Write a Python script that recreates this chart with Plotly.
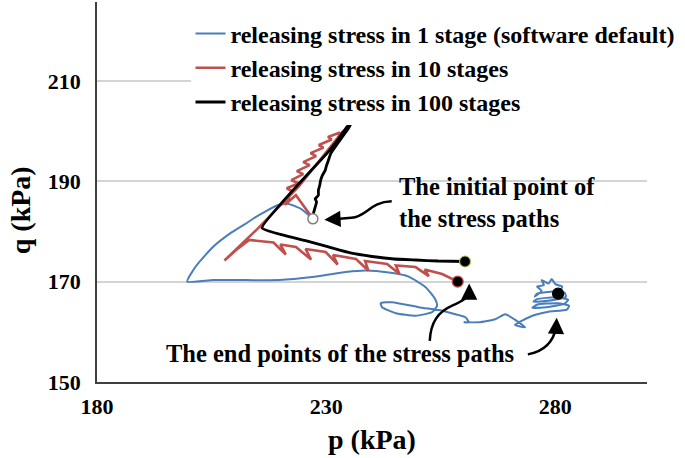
import plotly.graph_objects as go

# ---------------- data (p, q in kPa) ----------------
series_names = ["releasing stress in 1 stage (software default)",
                "releasing stress in 10 stages",
                "releasing stress in 100 stages"]
series_colors = ["#4a7ebb", "#c0504d", "#000000"]

blue_p = [227.1, 224.5, 221.6, 219.4, 216.8, 214.7, 212.2, 208.9, 205.3, 201.7, 199.7,
          205.3, 212.5, 219.8, 227.0, 234.3, 238.6, 243.7, 248.0, 251.7, 253.8, 254.2,
          253.1, 249.5, 245.2, 242.2, 241.9, 244.4, 250.2, 255.3, 258.2, 260.4, 261.1,
          260.0, 263.3, 266.9, 269.1, 273.4, 271.2, 275.0, 278.5, 282.5, 283.0, 280.5,
          276.0, 275.0, 278.0, 282.0, 282.8, 280.0, 276.0, 275.2, 278.5, 282.3, 282.0,
          279.0, 276.0, 275.5, 277.0, 276.0, 277.5, 277.0, 278.5, 279.2, 280.0, 281.5,
          280.6]
blue_q = [182.5, 184.5, 185.5, 185.2, 184.0, 182.9, 181.4, 179.5, 176.9, 173.2, 170.0,
          170.3, 170.3, 170.3, 170.9, 171.9, 172.2, 171.8, 171.0, 168.9, 166.5, 165.2,
          163.9, 163.2, 163.7, 164.9, 165.7, 165.9, 164.9, 164.2, 163.5, 162.9, 161.9,
          161.9, 161.9, 162.5, 163.5, 160.9, 161.4, 163.2, 164.0, 164.4, 165.2, 165.7,
          165.4, 164.8, 164.9, 165.6, 166.4, 166.9, 166.5, 166.0, 166.2, 167.0, 167.8,
          168.0, 167.6, 167.0, 168.2, 169.0, 169.3, 170.3, 169.6, 170.5, 169.5, 169.0,
          167.6]

red_p = [227.1, 223.4, 221.0, 222.6, 221.4, 224.0, 222.4, 225.0, 223.6, 226.4, 225.0,
         227.8, 226.6, 229.4, 228.4, 231.2, 230.4, 233.0, 232.6, 235.0, 233.5, 224.0,
         215.0, 207.8, 210.5, 213.2, 216.2, 218.5, 221.2, 220.0, 223.4, 226.7, 225.5,
         229.9, 232.5, 231.5, 236.5, 239.2, 238.5, 243.3, 246.0, 245.2, 249.5, 252.4,
         251.5, 255.3, 258.7]
red_q = [182.5, 187.2, 185.3, 188.0, 188.6, 189.6, 190.2, 191.4, 192.0, 193.2, 193.8,
         195.0, 195.6, 196.7, 197.2, 198.3, 198.8, 199.7, 199.2, 200.6, 199.8, 188.9,
         180.5, 174.2, 176.4, 178.3, 178.1, 177.8, 175.4, 177.4, 176.9, 174.4, 176.5,
         175.9, 173.4, 175.3, 174.5, 172.2, 174.1, 173.5, 171.5, 173.2, 172.9, 171.1,
         172.4, 171.5, 170.0]

black_p = [227.1, 227.2, 227.4, 227.9, 227.6, 228.3, 228.3, 228.6, 228.8, 229.2, 229.8,
           230.1, 230.5, 231.0, 232.5, 234.3, 235.4, 234.6, 232.8, 230.6, 216.0, 220.9,
           225.7, 230.5, 235.3, 240.0, 244.8, 249.6, 254.4, 260.3]
black_q = [182.5, 183.5, 184.2, 185.9, 186.5, 187.2, 188.2, 189.2, 190.2, 191.2, 192.2,
           193.2, 194.2, 195.5, 197.5, 199.8, 201.3, 200.9, 198.6, 196.0, 180.7, 179.2,
           178.1, 176.9, 175.7, 175.0, 174.5, 174.3, 174.1, 174.0]

initial_p = [227.1]
initial_q = [182.5]
end_p = [260.3, 258.7, 280.6]
end_q = [174.0, 170.0, 167.6]
end_outline = ["#b8b860", "#c0504d", "#000000"]

x_ticks = [180, 230, 280]
y_ticks = [150, 170, 190, 210]

FONT = "Times New Roman, Liberation Serif, serif"

fig = go.Figure()
styles = [dict(width=2.0, shape="spline", smoothing=0.5),
          dict(width=2.6, shape="linear"),
          dict(width=2.8, shape="spline", smoothing=0.4)]
for name, color, px_, qy, st in zip(series_names, series_colors,
                                    [blue_p, red_p, black_p], [blue_q, red_q, black_q],
                                    styles):
    fig.add_trace(go.Scatter(x=px_, y=qy, mode="lines", name=name,
                             line=dict(color=color, **st)))

fig.add_trace(go.Scatter(x=end_p, y=end_q, mode="markers", showlegend=False,
                         marker=dict(color="#000000", size=11,
                                     line=dict(color=end_outline, width=1.2))))
fig.add_trace(go.Scatter(x=initial_p, y=initial_q, mode="markers", showlegend=False,
                         marker=dict(color="#ffffff", size=10,
                                     line=dict(color="#808080", width=1.5))))

# curved arrows (annotation graphics)
arrow_paths = [
    "M244.3,186.0 C239.5,185.9 239.0,183.0 235.5,182.7 L232.3,182.45",
    "M252.6,158.2 C252.8,162.0 254.5,164.0 257.5,165.2 C260.5,166.4 261.3,167.2 261.2,168.0",
    "M274.0,155.5 C277.0,156.0 279.5,157.5 280.2,161.0",
]
for pth in arrow_paths:
    fig.add_shape(type="path", path=pth, xref="x", yref="y",
                  line=dict(color="#000000", width=2.5))
heads = [(229.6, 182.3, 232.6, 182.45), (261.2, 169.6, 261.2, 167.8), (280.3, 162.8, 280.2, 160.8)]
for hx, hy, tx, ty in heads:
    fig.add_annotation(x=hx, y=hy, ax=tx, ay=ty, axref="x", ayref="y", xref="x", yref="y",
                       text="", showarrow=True, arrowhead=2, arrowsize=1.3, arrowwidth=2.5,
                       arrowcolor="#000000")

fig.add_annotation(x=245.5, y=185.7, xref="x", yref="y", xanchor="left", yanchor="middle",
                   align="left", showarrow=False,
                   text="The initial point of<br>the stress paths",
                   font=dict(family=FONT, size=24.5, color="#000000", weight="bold"))
fig.add_annotation(x=233.0, y=155.6, xref="x", yref="y", xanchor="center", yanchor="middle",
                   showarrow=False, text="The end points of the stress paths",
                   font=dict(family=FONT, size=24.5, color="#000000", weight="bold"))

# y-axis title placed like the reference (slightly below the plot-area centre)
fig.add_annotation(x=0, y=0.452, xref="paper", yref="paper", xanchor="center",
                   yanchor="middle", xshift=-77, textangle=-90, showarrow=False,
                   text="q (kPa)",
                   font=dict(family=FONT, size=28, color="#000000", weight="bold"))

fig.update_layout(
    width=685, height=458,
    margin=dict(l=97, r=38, t=2, b=76),
    paper_bgcolor="#ffffff", plot_bgcolor="#ffffff",
    font=dict(family=FONT, color="#000000", weight="bold"),
    legend=dict(x=0.17, y=0.975, xanchor="left", yanchor="top",
                bgcolor="#ffffff", borderwidth=0, tracegroupgap=0,
                font=dict(family=FONT, size=24, color="#000000", weight="bold")),
    xaxis=dict(range=[180, 300], tickvals=x_ticks, showgrid=False, zeroline=False,
               showline=True, linecolor="#404040", linewidth=1.5, ticks="",
               automargin=False,
               tickfont=dict(family=FONT, size=22, weight="bold"),
               ticklabelstandoff=4,
               title=dict(text="p (kPa)", standoff=11,
                          font=dict(family=FONT, size=28, weight="bold"))),
    yaxis=dict(range=[150, 225.7], tickvals=y_ticks, showgrid=True, gridcolor="#d4d4d4",
               gridwidth=1.5, zeroline=False, showline=True, linecolor="#404040",
               linewidth=1.5, ticks="", automargin=False,
               tickfont=dict(family=FONT, size=22, weight="bold"),
               ticklabelstandoff=10),
)

fig.write_html("out.html", config={"displayModeBar": False},
               post_script="document.body.style.margin='0';document.body.style.overflow='hidden';")
